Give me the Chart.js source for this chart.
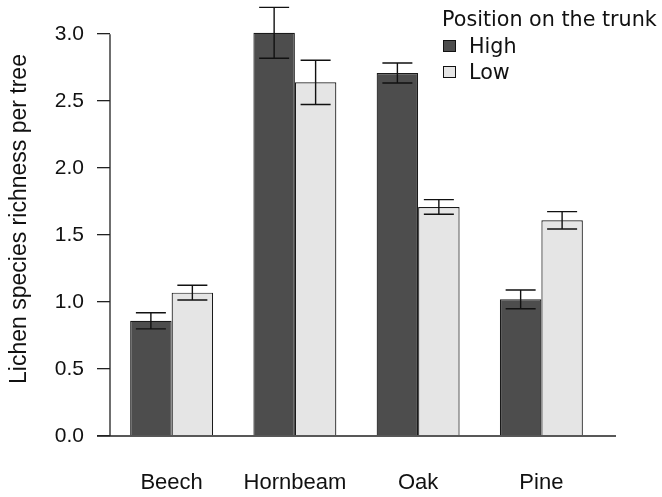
<!DOCTYPE html>
<html>
<head>
<meta charset="utf-8">
<script src="https://cdn.jsdelivr.net/npm/chart.js@4/dist/chart.umd.min.js"></script>
<style>
  html, body { margin: 0; padding: 0; background: #fff; }
  #wrap { position: relative; width: 662px; height: 497px; }
  #legend {
    position: absolute; left: 442px; top: 6px;
    font-family: "DejaVu Sans", sans-serif; font-size: 20.7px; color: #111;
    line-height: 26px; white-space: nowrap;
  }
  #legend .title { margin-bottom: 1px; }
  #legend .item { display: flex; align-items: center; }
  #legend .swatch {
    display: inline-block; width: 11px; height: 10px; margin: 0 13px 0 1px;
    border: 1px solid #111;
  }
</style>
</head>
<body>
<div id="wrap">
  <canvas id="chart"></canvas>
  <div id="legend"></div>
</div>
<script>
const categories = ["Beech", "Hornbeam", "Oak", "Pine"];
const highValues = [0.86, 3.01, 2.71, 1.02];
const lowValues = [1.07, 2.64, 1.71, 1.61];
const highErrors = [0.06, 0.19, 0.075, 0.07];
const lowErrors = [0.055, 0.165, 0.055, 0.065];
const yTicks = [0, 0.5, 1.0, 1.5, 2.0, 2.5, 3.0];
const legendTitle = "Position on the trunk";
const yTitle = "Lichen species richness per tree";

const axisFont = "'Liberation Sans', Arial, sans-serif";

// error bars + axis lines (R style: axis only spans tick range)
const extrasPlugin = {
  id: "extras",
  afterDatasetsDraw(chart) {
    const { ctx, chartArea, scales } = chart;
    const y = scales.y;
    ctx.save();
    ctx.strokeStyle = "#111";
    ctx.lineWidth = 1.4;
    chart.data.datasets.forEach((ds, i) => {
      const meta = chart.getDatasetMeta(i);
      meta.data.forEach((bar, j) => {
        const v = ds.data[j];
        const e = ds.errors[j];
        const top = y.getPixelForValue(v + e);
        const bot = y.getPixelForValue(v - e);
        const half = 15;
        ctx.beginPath();
        ctx.moveTo(bar.x, top);
        ctx.lineTo(bar.x, bot);
        ctx.moveTo(bar.x - half, top);
        ctx.lineTo(bar.x + half, top);
        ctx.moveTo(bar.x - half, bot);
        ctx.lineTo(bar.x + half, bot);
        ctx.stroke();
      });
    });

    const y0 = y.getPixelForValue(0);
    const y3 = y.getPixelForValue(yTicks[yTicks.length - 1]);
    ctx.strokeStyle = "#222";
    ctx.lineWidth = 1.3;
    ctx.beginPath();
    ctx.moveTo(chartArea.left, y3);
    ctx.lineTo(chartArea.left, y0);
    ctx.moveTo(chartArea.left - 13, y0);
    ctx.lineTo(chartArea.right + 13, y0);
    ctx.stroke();
    ctx.restore();
  }
};

const chart = new Chart(document.getElementById("chart"), {
  type: "bar",
  data: {
    labels: categories,
    datasets: [
      {
        label: "High",
        data: highValues,
        errors: highErrors,
        backgroundColor: "#4d4d4d",
        borderColor: "#1a1a1a",
        borderWidth: 1.2,
        categoryPercentage: 0.673,
        barPercentage: 1.0,
      },
      {
        label: "Low",
        data: lowValues,
        errors: lowErrors,
        backgroundColor: "#e5e5e5",
        borderColor: "#1a1a1a",
        borderWidth: 1.2,
        categoryPercentage: 0.673,
        barPercentage: 1.0,
      },
    ],
  },
  options: {
    responsive: true,
    maintainAspectRatio: false,
    animation: false,
    layout: { padding: { left: 0, right: 59, top: 2, bottom: 0 } },
    plugins: {
      legend: { display: false },
      tooltip: { enabled: false },
    },
    scales: {
      x: {
        grid: { display: false, drawTicks: false },
        border: { display: false },
        ticks: {
          color: "#111",
          padding: 34,
          font: { family: axisFont, size: 22 },
        },
        afterFit(scale) {
          scale.height = 61;
          scale.paddingLeft = 0;
          scale.paddingRight = 0;
        },
      },
      y: {
        min: 0,
        max: 3.24,
        afterBuildTicks(axis) {
          axis.ticks = yTicks.map((v) => ({ value: v }));
        },
        afterFit(scale) {
          scale.width = 110;
          scale.paddingTop = 0;
        },
        grid: {
          drawOnChartArea: false,
          drawTicks: true,
          tickLength: 13,
          tickColor: "#222",
          lineWidth: 1.3,
        },
        border: { display: false },
        ticks: {
          color: "#111",
          padding: 13,
          font: { family: axisFont, size: 21 },
          callback: (v) => Number(v).toFixed(1),
        },
        title: {
          display: true,
          text: yTitle,
          color: "#111",
          padding: { top: 6, bottom: 0 },
          font: { family: axisFont, size: 23 },
        },
      },
    },
  },
  plugins: [extrasPlugin],
});

// legend drawn as html, top right like the R plot
const legendEl = document.getElementById("legend");
legendEl.innerHTML =
  '<div class="title">' + legendTitle + "</div>" +
  chart.data.datasets
    .map((ds) => '<div class="item"><span class="swatch" style="background:' + ds.backgroundColor + '"></span>' + ds.label + "</div>")
    .join("");
</script>
</body>
</html>
